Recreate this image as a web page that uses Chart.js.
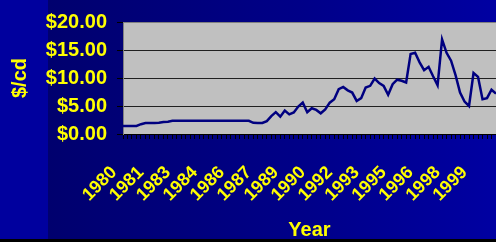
<!DOCTYPE html>
<html>
<head>
<meta charset="utf-8">
<script src="https://cdn.jsdelivr.net/npm/chart.js@4/dist/chart.umd.min.js"></script>
<style>
  html, body { margin: 0; padding: 0; }
  body {
    width: 496px; height: 242px; overflow: hidden; position: relative;
    background: linear-gradient(to right, #00009e 0, #00009e 48px, #00006e 48px, #000088 300px, #0000a2 496px);
  }
  #wrap { position: absolute; left: 0; top: 0; width: 496px; height: 242px; }
  #bar { position: absolute; left: 0; top: 239px; width: 496px; height: 3px; background: #000; }
</style>
</head>
<body>
<div id="wrap"><canvas id="chart" width="496" height="242"></canvas></div>
<div id="bar"></div>
<script>
// Quarterly price, 1980 Q1 onwards ($/cd)
const startYear = 1980;
const prices = [
  1.45, 1.45, 1.45, 1.45, 1.75, 1.95, 1.95, 1.95, 2.0, 2.15, 2.2, 2.35,
  2.35, 2.35, 2.35, 2.35, 2.35, 2.35, 2.35, 2.35, 2.35, 2.35, 2.35, 2.35,
  2.35, 2.35, 2.35, 2.35, 2.35, 2.0, 1.97, 1.97, 2.3, 3.2, 3.9, 3.1,
  4.2, 3.5, 3.85, 4.9, 5.6, 3.9, 4.6, 4.3, 3.7, 4.4, 5.6, 6.2,
  8.0, 8.4, 7.8, 7.4, 5.9, 6.4, 8.3, 8.6, 9.9, 9.1, 8.6, 7.0,
  8.9, 9.7, 9.5, 9.2, 14.3, 14.5, 12.8, 11.4, 12.0, 10.3, 8.7, 16.9,
  14.5, 13.1, 10.5, 7.4, 5.8, 5.0, 10.9, 10.2, 6.2, 6.4, 7.9, 7.2
];
const quarters = prices.map((v, i) => String(startYear + Math.floor(i / 4)));
const labelEvery = 6;
const yTicks = [0, 5, 10, 15, 20];

const yellow = '#ffff00';

const plotBg = {
  id: 'plotBg',
  beforeDraw(chart) {
    const a = chart.chartArea;
    const ctx = chart.ctx;
    ctx.save();
    ctx.fillStyle = '#c0c0c0';
    ctx.fillRect(a.left, a.top, a.right - a.left, a.bottom - a.top);
    ctx.restore();
  }
};

new Chart(document.getElementById('chart'), {
  type: 'line',
  data: {
    labels: quarters,
    datasets: [{
      data: prices,
      borderColor: '#000080',
      borderWidth: 2.5,
      pointRadius: 0,
      tension: 0,
      fill: false
    }]
  },
  options: {
    responsive: false,
    animation: false,
    layout: { padding: { top: 15, right: 0, bottom: 0, left: 0 } },
    plugins: { legend: { display: false }, tooltip: { enabled: false } },
    scales: {
      x: {
        offset: false,
        grid: { display: true, drawOnChartArea: false, tickLength: 5, color: '#000' },
        border: { display: true, color: '#000' },
        ticks: {
          autoSkip: false,
          minRotation: 45,
          maxRotation: 45,
          padding: 23,
          labelOffset: -9,
          color: yellow,
          font: { family: 'Liberation Sans, Arial', size: 18, weight: 'bold' },
          callback: function (v, i) { return i % labelEvery === 0 ? quarters[i] : ''; }
        },
        title: {
          display: true, text: 'Year', color: yellow, padding: 0,
          font: { family: 'Liberation Sans, Arial', size: 20, weight: 'bold' }
        },
        afterFit(scale) { scale.height = 108; scale.paddingLeft = 0; scale.paddingRight = 0; }
      },
      y: {
        min: 0, max: 20,
        afterBuildTicks(scale) { scale.ticks = yTicks.map(v => ({ value: v })); },
        grid: {
          tickLength: 6,
          color: ctx => ctx.tick && ctx.tick.value === 20 ? '#808080' : '#202020',
          tickColor: '#000'
        },
        border: { display: true, color: '#808080' },
        ticks: {
          padding: 10,
          color: yellow,
          font: { family: 'Liberation Sans, Arial', size: 20, weight: 'bold' },
          callback: v => '$' + v.toFixed(2)
        },
        title: {
          display: true, text: '$/cd', color: yellow, padding: { top: 8, bottom: 0 },
          font: { family: 'Liberation Sans, Arial', size: 20, weight: 'bold' }
        },
        afterFit(scale) { scale.width = 123; }
      }
    }
  },
  plugins: [plotBg]
});
</script>
</body>
</html>
